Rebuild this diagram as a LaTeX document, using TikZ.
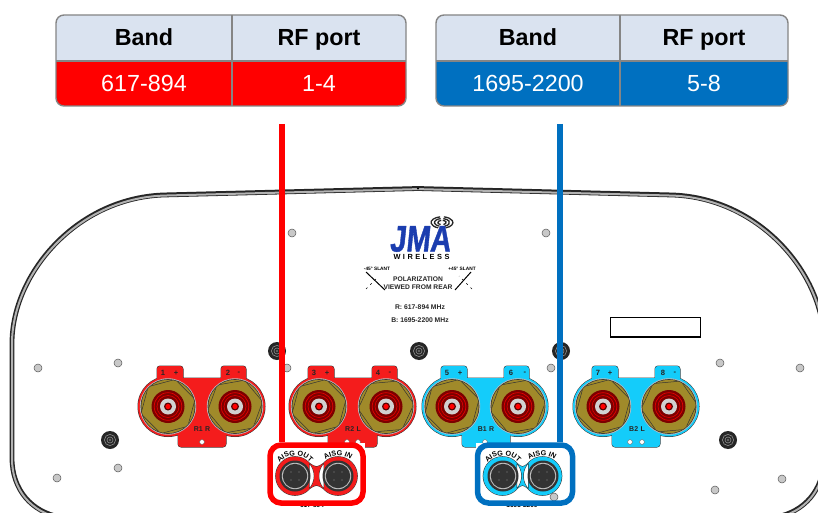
\documentclass[tikz,border=0pt]{standalone}
\usepackage{fontspec}
\setmainfont{Liberation Sans}
\newfontfamily\logofont[BoldFeatures={FakeBold=1.2,FakeSlant=0.13}]{Liberation Sans}
\usetikzlibrary{decorations.text,calc}
\definecolor{hdr}{HTML}{DAE3F0}
\definecolor{cellred}{HTML}{FF0000}
\definecolor{cellblue}{HTML}{0070C0}
\definecolor{gridgray}{HTML}{858585}
\definecolor{platered}{HTML}{F41C1C}
\definecolor{platecyan}{HTML}{14CCFA}
\definecolor{brass}{HTML}{A08A2A}
\definecolor{darkred}{HTML}{7C0000}
\definecolor{screw}{HTML}{C8C8C8}
\definecolor{logoblue}{HTML}{1B3DAF}
\definecolor{edge}{HTML}{333333}
\newcommand{\fsz}[1]{\fontsize{#1pt}{#1pt}\selectfont}
\tikzset{
  headtext/.style={font=\fsz{23.3}\bfseries,text=black,inner sep=0pt,anchor=base},
  celltext/.style={font=\fsz{23.3},text=white,inner sep=0pt,anchor=base},
  tinybold/.style={font=\fsz{7.6}\bfseries,text=black!85,inner sep=0pt},
  platelabel/.style={font=\fsz{7}\bfseries,text=black!85,inner sep=0pt},
  plaintiny/.style={font=\fsz{6.7}\bfseries,text=black!85,inner sep=0pt},
  framebox/.style={draw=#1,line width=5.5pt,rounded corners=11pt,fill=none,inner sep=0pt},
  feedline/.style={draw=#1,line width=6pt},
}
\newcommand{\bandtable}[7]{
  \fill[hdr,rounded corners=8pt] (#1,15) -- (#3,15) -- (#3,61) -- (#1,61) -- cycle;
  \fill[#4,rounded corners=8pt] (#1,61) -- (#3,61) -- (#3,106) -- (#1,106) -- cycle;
  \fill[hdr] (#1,40) rectangle (#3,61);
  \fill[#4] (#1,61) rectangle (#3,85);
  \draw[gridgray,line width=1.4pt,rounded corners=8pt] (#1,15) -- (#3,15) -- (#3,106) -- (#1,106) -- cycle;
  \draw[gridgray,line width=1.4pt] (#1,61) -- (#3,61) (#2,15) -- (#2,106);
  \node[headtext] (#5a) at ({(#1+#2)/2},45.7) {Band};
  \node[headtext] (#5b) at ({(#2+#3)/2},45.7) {RF port};
  \node[celltext] (#5c) at ({(#1+#2)/2},92) {#6};
  \node[celltext] (#5d) at ({(#2+#3)/2},92) {#7};
}
\newcommand{\plateshape}[4]{
  (#1,406.5) circle[radius=30pt]
  (#2,406.5) circle[radius=30pt]
  (#1,378) rectangle (#2,433)
  [rounded corners=3pt]
  (#1-11,366) rectangle (#1+15,385)
  (#2-14,366) rectangle (#2+11,385)
  (#3,425) rectangle (#4,447)
}
\newcommand{\mountplate}[5]{
  \draw[edge,line width=1pt] \plateshape{#2}{#3}{#4}{#5};
  \fill[#1] \plateshape{#2}{#3}{#4}{#5};
}
\newcommand{\rfconn}[2]{
  \fill[black!25] (#1,406.5) circle[radius=28.2pt];
  \fill[edge] (#1,406.5) circle[radius=27.4pt];
  \fill[brass] (#1,406.5) circle[radius=26.7pt];
  \begin{scope}
    \clip (#1,406.5) circle[radius=26.7pt];
    \draw[black!80,line width=.5pt] ($(#1,406.5)+(#2:28pt)$)
      -- ($(#1,406.5)+(#2+60:28pt)$) -- ($(#1,406.5)+(#2+120:28pt)$)
      -- ($(#1,406.5)+(#2+180:28pt)$) -- ($(#1,406.5)+(#2+240:28pt)$)
      -- ($(#1,406.5)+(#2+300:28pt)$) -- cycle;
  \end{scope}
  \fill[darkred] (#1,406.5) circle[radius=16.5pt];
  \draw[red!90!black,line width=.7pt] (#1,406.5) circle[radius=13.8pt];
  \draw[red!90!black,line width=.6pt] (#1,406.5) circle[radius=11pt];
  \fill[black!18] (#1,406.5) circle[radius=8pt];
  \fill[darkred!70!black] (#1,406.5) circle[radius=4pt];
  \fill[red] (#1,406.5) circle[radius=2.6pt];
}
\newcommand{\aisg}[2]{
  \fill[black!80] (#1,#2) circle[radius=15.5pt];
  \fill[black!25] (#1,#2) circle[radius=13.2pt];
  \fill[black!80] (#1,#2) circle[radius=12.2pt];
  \foreach \a in {45,135,225,315}{\fill[black!45] ($(#1,#2)+(\a:5.6pt)$) circle[radius=.6pt];}
}
\newcommand{\aisgtext}[3]{
  \path[postaction={decorate,decoration={text along path,text align={center},
    text={|\fsz{7.2}\bfseries|#3}}}]
    ($(#1,#2)+(150:20.5pt)$) arc[start angle=150,end angle=30,radius=20.5pt];
}
\newcommand{\aisgplateshape}[3]{
  (#1,#3) circle[radius=19.3pt] (#2,#3) circle[radius=19.3pt]
  ({#1+14},{#3-13}) .. controls ({(#1+#2)/2},{#3-8}) .. ({#2-14},{#3-13})
  -- ({#2-14},{#3+13}) .. controls ({(#1+#2)/2},{#3+8}) .. ({#1+14},{#3+13}) -- cycle
}
\newcommand{\gscrew}[2]{\draw[black!65,fill=screw,line width=.5pt] (#1,#2) circle[radius=4pt];}
\newcommand{\grommet}[2]{
  \fill[black!85] (#1,#2) circle[radius=9pt];
  \draw[black!45,line width=.6pt] (#1,#2) circle[radius=5.6pt];
  \draw[black!45,line width=.6pt] (#1,#2) circle[radius=3pt];
  \fill[black!60] (#1,#2) circle[radius=1.4pt];
}
\begin{document}
\begin{tikzpicture}[x=1pt,y=-1pt]
\useasboundingbox (0,0) rectangle (818,513);
\fill[white] (0,0) rectangle (818,513);

% housing outline
\begin{scope}
\clip (0,0) rectangle (818,513);
\def\housing{(60,517) .. controls (32,512) and (12,490) .. (12,458) -- (12,343)
   .. controls (12,275) and (75,198.5) .. (163,195) -- (418,188.5) -- (673,195)
   .. controls (761,198.5) and (824,275) .. (824,343) -- (824,458)
   .. controls (824,490) and (804,512) .. (776,517)}
\draw[black!85,line width=4.8pt] \housing;
\draw[black!30,line width=2pt,shift={(0pt,-.6pt)}] \housing;
\end{scope}
\fill[black] (418,188.5) circle[radius=1.2pt];

\foreach \p/\q in {38/368,118/363,118/468,57/478,292/233,287/368,546/233,551/368,720/363,800/368,782/479,715/490}{\gscrew{\p}{\q}}
\foreach \p/\q in {277/351,110/440,419/351,561/351,728/440}{\grommet{\p}{\q}}
\draw[black,line width=1.1pt,fill=white] (610.5,317.5) rectangle (700.5,337);

% logo
\foreach \r in {3.2,5.8,8.4}{
  \draw[black!85,line width=1.3pt] ($(442,222.5)+(100:{\r*1.3pt} and {\r*.68pt})$) arc[start angle=100,end angle=250,x radius=\r*1.3pt,y radius=\r*.68pt];
  \draw[black!85,line width=1.3pt] ($(442,222.5)+(-70:{\r*1.3pt} and {\r*.68pt})$) arc[start angle=-70,end angle=80,x radius=\r*1.3pt,y radius=\r*.68pt];
}
\node[font=\fsz{37}\logofont\bfseries,text=logoblue,inner sep=0pt,xscale=.78,text height=26pt,text depth=0pt] (logo) at (420,238.5) {JMA};
\node[font=\fsz{7.4}\bfseries,text=black,inner sep=0pt] (wireless) at (421.5,256.5) {W\,\,I\,\,R\,\,E\,\,L\,\,E\,\,S\,\,S};
\node[plaintiny] (pol1) at (418,279) {POLARIZATION};
\node[plaintiny] (pol2) at (418,286.7) {VIEWED FROM REAR};
\node[font=\fsz{4.8}\bfseries,inner sep=0pt] (sl) at (377,269) {-45° SLANT};
\node[font=\fsz{4.8}\bfseries,inner sep=0pt] (sr) at (462,269) {+45° SLANT};
\coordinate (la) at (366,272); \coordinate (lb) at (385,290);
\coordinate (lc) at (366,289); \coordinate (ld) at (378,277);
\coordinate (ra) at (471,272); \coordinate (rb) at (455,290);
\coordinate (rc) at (472,289); \coordinate (rd) at (459,276);
\draw[black,line width=1pt] (la) -- (lb);
\draw[black,line width=1pt] (ra) -- (rb);
\draw[black,line width=.5pt,dash pattern=on 2pt off 4pt] (lc) -- (ld);
\draw[black,line width=.5pt,dash pattern=on 2pt off 4pt] (rc) -- (rd);
\node[font=\fsz{6.8}\bfseries,text=black!85,inner sep=0pt] (fr) at (420,307) {R: 617-894 MHz};
\node[font=\fsz{6.8}\bfseries,text=black!85,inner sep=0pt] (fb) at (420,320) {B: 1695-2200 MHz};

% plates
\mountplate{platered}{168}{235}{178}{226}
\mountplate{platered}{319}{386}{328}{377}
\mountplate{platecyan}{452}{518}{462}{510}
\mountplate{platecyan}{603}{669}{612}{660}
\rfconn{168}{15}\rfconn{235}{10}\rfconn{319}{15}\rfconn{386}{5}
\rfconn{452}{15}\rfconn{518}{10}\rfconn{603}{15}\rfconn{669}{5}

\foreach \nm/\p/\q/\t in {t1a/163/373/1,t1b/176/373/+,t2a/228/373/2,t2b/239/373/-,
  t3a/314/373/3,t3b/327/373/+,t4a/378/373/4,t4b/390/373/-,
  t5a/447/373/5,t5b/460/373/+,t6a/511/373/6,t6b/525/373/-,
  t7a/598/373/7,t7b/610/373/+,t8a/663/373/8,t8b/675/373/-}{
  \node[tinybold] (\nm) at (\p,\q) {\t};
}
\node[platelabel] (r1) at (202,429) {R1\,\,R};
\node[platelabel] (r2) at (353,429) {R2\,\,L};
\node[platelabel] (b1) at (486,429) {B1\,\,R};
\node[platelabel] (b2) at (637,429) {B2\,\,L};
\foreach \p/\q in {202/442,347/442,358/442,485/442,630/442,642/442}{
  \draw[black!60,fill=white,line width=.4pt] (\p,\q) circle[radius=2.4pt];
}

% clipped band text under the frames
\node[font=\fsz{6.5}\bfseries,inner sep=0pt] (cutr) at (312,505) {617-894};
\node[font=\fsz{6.5}\bfseries,inner sep=0pt] (cutb) at (522,505) {1695-2200};

% frame interiors
\fill[white] (268,443) rectangle (365,503.5);
\fill[white] (476,443) rectangle (574,503.5);

% AISG red
\draw[edge,line width=1pt] \aisgplateshape{295}{338}{476};
\fill[platered] \aisgplateshape{295}{338}{476};
\aisg{295}{476}\aisg{338}{476}
\aisgtext{295}{476}{AISG OUT}
\aisgtext{338}{476}{AISG IN}
% AISG blue
\draw[edge,line width=1pt] \aisgplateshape{502.5}{542.5}{476};
\fill[platecyan] \aisgplateshape{502.5}{542.5}{476};
\aisg{503}{476}\aisg{543}{476}
\aisgtext{503}{476}{AISG OUT}
\aisgtext{542}{476}{AISG IN}
\gscrew{554}{497}

% feed lines and frames
\node[framebox=red,minimum width=93pt,minimum height=58pt] (rframe) at (316.5,474) {};
\node[framebox=cellblue,minimum width=95pt,minimum height=58pt] (bframe) at (525,474) {};
\coordinate (rtop) at (282,124);
\coordinate (btop) at (560,124);
\draw[feedline=red] (rtop) -- (rtop |- rframe.north);
\draw[feedline=cellblue] (btop) -- (btop |- bframe.north);

% tables
\bandtable{56}{232}{406}{cellred}{lt}{617-894}{1-4}
\bandtable{436}{620}{788}{cellblue}{rt}{1695-2200}{5-8}
\end{tikzpicture}
\end{document}
